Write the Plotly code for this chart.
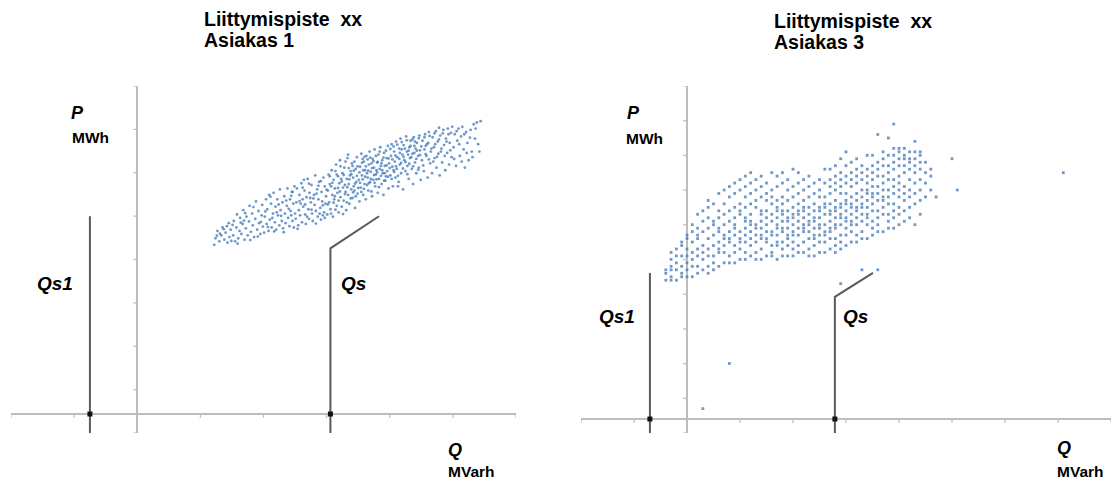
import plotly.graph_objects as go

W, H = 1115, 482

# ---------------- data ----------------
# Asiakas 1 : (Q MVarh, P MWh)
asiakas1_points = [
    (1.22,3.90),(1.24,4.05),(1.27,4.22),(1.30,3.98),(1.33,4.12),(1.35,4.30),(1.38,4.02),(1.40,4.18),
    (1.43,3.95),(1.45,4.40),(1.46,4.08),(1.48,4.25),(1.49,3.99),(1.42,4.33),(1.31,4.16),
    (1.52,4.12),(1.53,4.45),(1.55,3.98),(1.57,4.30),(1.58,4.60),(1.60,4.05),(1.62,4.22),(1.63,4.52),
    (1.65,4.15),(1.67,4.38),(1.68,4.70),(1.70,4.02),(1.72,4.28),(1.73,4.55),(1.75,4.12),(1.77,4.44),
    (1.78,4.80),(1.80,4.20),(1.82,4.62),(1.83,4.35),(1.85,4.08),(1.87,4.50),(1.88,4.90),(1.90,4.25),
    (1.92,4.68),(1.93,4.40),(1.95,4.15),(1.97,4.58),(1.98,4.82),(1.99,4.32),
    (2.01,4.18),(2.02,4.55),(2.04,4.95),(2.05,4.38),(2.06,4.72),(2.08,4.22),(2.09,5.05),(2.10,4.48),
    (2.12,4.85),(2.13,4.30),(2.15,4.62),(2.16,5.10),(2.18,4.42),(2.19,4.78),(2.20,4.25),(2.22,4.95),
    (2.23,4.58),(2.25,4.35),(2.26,5.18),(2.27,4.70),(2.29,4.45),(2.30,4.88),(2.31,4.28),(2.33,5.02),
    (2.34,4.62),(2.35,4.40),(2.37,4.80),(2.38,5.20),(2.39,4.52),(2.41,4.33),(2.42,4.95),(2.43,4.68),
    (2.45,5.12),(2.46,4.45),(2.47,4.85),(2.48,4.30),(2.49,5.25),(2.44,4.58),(2.36,4.92),(2.21,4.65),
    (2.51,4.50),(2.52,4.88),(2.53,5.20),(2.55,4.35),(2.56,4.70),(2.57,5.05),(2.58,4.58),(2.60,5.32),
    (2.61,4.42),(2.62,4.95),(2.63,4.78),(2.65,5.15),(2.66,4.60),(2.67,4.38),(2.68,5.00),(2.70,5.42),
    (2.71,4.72),(2.72,4.50),(2.73,5.10),(2.75,4.88),(2.76,5.28),(2.77,4.62),(2.78,4.45),(2.80,5.05),
    (2.81,4.82),(2.82,5.50),(2.83,4.68),(2.85,5.18),(2.86,4.55),(2.87,4.95),(2.88,5.35),(2.90,4.75),
    (2.91,4.48),(2.92,5.12),(2.93,4.90),(2.95,5.45),(2.96,4.65),(2.97,5.25),(2.98,4.85),(2.99,5.02),
    (2.64,5.40),(2.74,4.98),(2.84,5.08),(2.94,4.58),(2.59,4.85),
    (3.01,4.60),(3.02,5.15),(3.03,5.52),(3.04,4.88),(3.05,5.30),(3.06,4.72),(3.08,5.62),(3.09,5.05),
    (3.10,4.55),(3.11,5.40),(3.12,4.95),(3.13,5.20),(3.15,5.75),(3.16,4.80),(3.17,5.10),(3.18,5.48),
    (3.19,4.65),(3.20,5.32),(3.21,5.85),(3.22,5.00),(3.24,4.78),(3.25,5.55),(3.26,5.22),(3.27,4.92),
    (3.28,5.68),(3.30,5.12),(3.31,4.70),(3.32,5.42),(3.33,5.90),(3.34,5.05),(3.35,5.30),(3.36,4.85),
    (3.38,5.60),(3.39,5.18),(3.40,5.78),(3.41,4.98),(3.42,5.45),(3.43,5.25),(3.45,4.75),(3.46,5.65),
    (3.47,5.35),(3.48,5.92),(3.49,5.08),(3.14,5.60),(3.23,5.42),(3.29,5.28),(3.37,5.50),(3.44,5.15),
    (3.07,5.25),(3.44,5.82),
    (3.51,5.40),(3.52,4.90),(3.53,5.70),(3.54,5.22),(3.55,6.00),(3.56,5.50),(3.58,5.05),(3.59,5.82),
    (3.60,5.30),(3.61,5.62),(3.62,4.95),(3.63,5.95),(3.65,5.45),(3.66,5.15),(3.67,5.75),(3.68,6.05),
    (3.69,5.35),(3.70,5.58),(3.72,5.02),(3.73,5.88),(3.74,5.40),(3.75,5.68),(3.76,6.10),(3.77,5.25),
    (3.78,5.52),(3.80,5.80),(3.81,5.10),(3.82,5.98),(3.83,5.42),(3.84,5.65),(3.85,6.15),(3.87,5.30),
    (3.88,5.85),(3.89,5.55),(3.90,5.05),(3.91,6.02),(3.92,5.72),(3.93,5.38),(3.95,5.90),(3.96,5.60),
    (3.97,6.18),(3.98,5.20),(3.99,5.78),(3.57,5.88),(3.64,5.55),(3.71,5.78),(3.79,5.62),(3.86,5.72),
    (3.94,5.48),(3.58,5.62),
    (4.01,5.50),(4.02,5.95),(4.03,6.22),(4.04,5.70),(4.05,5.25),(4.07,6.05),(4.08,5.82),(4.09,5.45),
    (4.10,6.28),(4.11,5.65),(4.12,5.92),(4.14,5.35),(4.15,6.12),(4.16,5.75),(4.17,6.35),(4.18,5.55),
    (4.20,5.98),(4.21,5.18),(4.22,6.20),(4.23,5.85),(4.25,5.60),(4.26,6.40),(4.27,6.05),(4.28,5.72),
    (4.30,5.42),(4.31,6.15),(4.32,5.90),(4.33,6.30),(4.35,5.65),(4.36,6.00),(4.37,5.30),(4.38,6.38),
    (4.40,5.80),(4.41,6.12),(4.42,5.55),(4.43,6.25),(4.45,5.95),(4.46,5.68),(4.47,6.42),(4.48,6.08),
    (4.49,5.40),(4.06,5.62),(4.19,6.10),(4.29,5.98),(4.39,6.18),
    (4.51,5.85),(4.52,6.30),(4.54,5.60),(4.55,6.10),(4.56,6.45),(4.58,5.95),(4.60,5.45),(4.61,6.25),
    (4.62,6.50),(4.64,5.78),(4.65,6.05),(4.67,5.55),(4.68,6.38),(4.70,6.15),(4.71,5.90),(4.73,6.52),
    (4.74,5.68),(4.76,6.28),(4.77,6.00),(4.79,5.50),(4.80,6.42),(4.82,6.12),(4.83,5.80),(4.85,6.55),
    (4.86,6.20),(4.88,5.62),(4.89,6.35),(4.91,6.02),(4.92,6.58),(4.94,5.75),(4.95,6.25),(4.97,6.48),
    (4.98,5.92),(4.57,6.18),(4.78,6.60),
    (5.01,6.15),(5.03,6.45),(5.05,5.72),(5.07,6.30),(5.09,6.58),(5.11,5.95),(5.13,6.40),(5.15,6.62),
    (5.17,6.10),(5.19,5.68),(5.21,6.50),(5.23,6.25),(5.25,5.85),(5.28,6.55),(5.30,6.05),(5.33,6.68),
    (5.35,6.35),(5.38,6.72),(5.42,6.05),(5.44,6.75),
    # further readings, filling the cloud irregularly
    (1.26,4.11),(1.37,4.26),(1.51,4.36),(1.59,3.93),(1.64,4.41),(1.71,4.63),(1.79,4.01),(1.84,4.77),
    (1.91,4.09),(1.96,4.43),(2.03,4.67),(2.07,4.31),(2.11,5.01),(2.14,4.52),(2.17,4.21),(2.24,4.83),
    (2.28,4.57),(2.32,4.19),(2.40,4.73),(2.44,5.03),(2.50,4.62),(2.54,4.27),(2.57,4.91),(2.62,5.22),
    (2.66,4.83),(2.69,4.55),(2.72,5.31),(2.76,4.71),(2.79,4.97),(2.83,4.39),(2.87,5.26),(2.89,4.62),
    (2.91,5.37),(2.94,4.81),(2.97,4.52),(3.00,5.17),(3.02,4.83),(3.05,5.48),(3.07,4.62),(3.09,5.33),
    (3.11,4.87),(3.13,5.02),(3.14,4.71),(3.16,5.52),(3.18,5.21),(3.19,4.92),(3.21,5.13),(3.22,5.71),
    (3.24,5.36),(3.26,4.61),(3.27,5.51),(3.29,5.07),(3.30,5.82),(3.32,4.88),(3.33,5.23),(3.35,5.67),
    (3.36,5.41),(3.38,4.97),(3.39,5.53),(3.41,5.72),(3.42,5.11),(3.43,5.61),(3.45,5.31),(3.46,5.02),
    (3.48,5.49),(3.49,5.71),(3.50,5.21),(3.52,5.57),(3.53,5.33),(3.55,5.12),(3.56,5.79),(3.57,5.41),
    (3.59,5.19),(3.60,5.93),(3.61,5.47),(3.62,5.71),(3.64,5.28),(3.65,5.87),(3.66,5.61),(3.67,5.32),
    (3.69,5.91),(3.70,5.42),(3.71,5.13),(3.72,5.67),(3.74,5.83),(3.75,5.51),(3.76,5.33),(3.78,5.95),
    (3.79,5.41),(3.80,5.57),(3.81,5.81),(3.83,5.23),(3.84,6.05),(3.86,5.49),(3.87,5.78),(3.88,5.62),
    (3.90,5.91),(3.91,5.38),(3.92,5.55),(3.94,6.07),(3.95,5.73),(3.97,5.47),(3.98,5.89),(4.00,5.67),
    (4.01,6.11),(4.03,5.42),(4.04,5.87),(4.06,6.17),(4.07,5.58),(4.09,5.96),(4.10,5.71),(4.12,6.21),
    (4.13,5.49),(4.15,5.88),(4.16,6.02),(4.18,5.79),(4.19,6.27),(4.21,5.66),(4.22,5.93),(4.24,6.12),
    (4.25,5.81),(4.27,6.31),(4.28,5.53),(4.30,6.07),(4.31,5.77),(4.33,6.18),(4.34,5.92),(4.36,6.33),
    (4.37,5.71),(4.39,6.02),(4.40,6.28),(4.42,5.88),(4.43,6.07),(4.45,5.63),(4.46,6.36),(4.48,5.97),
    (4.50,6.17),(4.53,5.73),(4.55,6.38),(4.57,5.99),(4.59,6.22),(4.62,5.87),(4.63,6.41),(4.66,6.12),
    (4.69,5.82),(4.71,6.47),(4.72,6.22),(4.75,5.93),(4.78,6.33),(4.81,6.05),(4.84,6.47),(4.87,5.95),
    (4.90,6.28),(4.93,6.45),(4.96,6.08),(4.99,6.62),(5.02,5.88),(5.06,6.52),(5.10,6.22),(5.14,5.82),
    (5.18,6.45),(5.22,6.02),(5.27,6.37),(5.31,5.92),(5.36,6.58),(5.40,6.22),(4.13,5.25),(3.34,5.98),
    (2.46,5.12),(1.69,4.46),
]

# Asiakas 3 : readings are on a 0.1 grid -> (Q MVarh, [P MWh values in that column])
asiakas3_columns = [
    (-0.4, [4.0, 4.2, 4.3]),
    (-0.3, [4.0, 4.1, 4.3, 4.4, 4.6, 4.8]),
    (-0.2, [4.0, 4.3, 4.5, 4.7, 4.9]),
    (-0.1, [4.1, 4.2, 4.4, 4.7, 5.0, 5.1]),
    (0.0, [4.1, 4.3, 4.5, 4.7, 4.9, 5.2, 5.3]),
    (0.1, [4.1, 4.4, 4.6, 4.8, 5.1, 5.4, 5.6]),
    (0.2, [4.2, 4.4, 4.7, 4.9, 5.2, 5.3, 5.5, 5.9]),
    (0.3, [4.3, 4.6, 4.8, 5.0, 5.4, 5.7, 6.0]),
    (0.4, [4.2, 4.4, 4.7, 4.9, 5.2, 5.5, 5.8, 6.1, 6.3]),
    (0.5, [4.3, 4.5, 4.7, 5.0, 5.3, 5.6, 5.7, 6.2]),
    (0.6, [4.4, 4.8, 4.9, 5.1, 5.4, 5.5, 5.8, 6.0, 6.5]),
    (0.7, [4.5, 4.8, 5.0, 5.2, 5.3, 5.6, 5.9, 6.2, 6.6]),
    (0.8, [4.5, 4.7, 5.1, 5.2, 5.4, 5.7, 6.0, 6.4, 6.7]),
    (0.9, [4.5, 4.8, 5.0, 5.3, 5.5, 5.6, 5.8, 6.1, 6.5, 6.8]),
    (1.0, [4.6, 4.9, 5.1, 5.2, 5.4, 5.9, 6.0, 6.2, 6.6, 6.9]),
    (1.1, [4.6, 4.8, 5.1, 5.3, 5.5, 5.7, 5.8, 6.1, 6.4, 6.7, 7.0]),
    (1.2, [4.7, 5.0, 5.2, 5.4, 5.6, 5.7, 5.9, 6.2, 6.5, 6.8, 7.1]),
    (1.3, [4.6, 4.8, 5.1, 5.3, 5.5, 5.6, 6.1, 6.3, 6.6, 6.9]),
    (1.4, [4.6, 4.9, 5.2, 5.3, 5.5, 5.7, 5.9, 6.0, 6.4, 6.7, 7.0]),
    (1.5, [4.7, 5.1, 5.2, 5.4, 5.6, 5.8, 6.0, 6.3, 6.5, 6.8]),
    (1.6, [4.7, 4.8, 5.0, 5.3, 5.4, 5.7, 5.9, 6.2, 6.4, 6.6, 7.1]),
    (1.7, [4.6, 5.0, 5.1, 5.3, 5.5, 5.6, 5.8, 6.0, 6.1, 6.3, 6.7, 7.0]),
    (1.8, [4.7, 4.9, 5.1, 5.4, 5.5, 5.7, 5.9, 6.0, 6.2, 6.4, 6.8, 7.1]),
    (1.9, [4.7, 5.0, 5.2, 5.3, 5.5, 5.7, 5.8, 6.0, 6.3, 6.6, 6.9]),
    (2.0, [4.7, 4.9, 5.1, 5.3, 5.4, 5.6, 5.8, 5.9, 6.1, 6.4, 6.7, 7.2]),
    (2.1, [4.8, 5.0, 5.3, 5.5, 5.7, 5.9, 6.0, 6.2, 6.5, 6.8, 7.1]),
    (2.2, [4.8, 5.1, 5.4, 5.5, 5.6, 5.8, 6.0, 6.1, 6.3, 6.6, 6.9]),
    (2.3, [4.7, 4.9, 5.2, 5.4, 5.6, 5.7, 5.9, 6.1, 6.4, 6.7, 7.0]),
    (2.4, [4.7, 5.0, 5.2, 5.3, 5.5, 5.7, 5.8, 6.0, 6.2, 6.5, 6.8]),
    (2.5, [4.8, 5.1, 5.3, 5.5, 5.6, 5.8, 6.0, 6.1, 6.4, 6.6, 6.9]),
    (2.6, [4.8, 5.1, 5.3, 5.4, 5.6, 5.9, 6.1, 6.2, 6.4, 6.8, 7.2]),
    (2.7, [4.9, 5.2, 5.4, 5.5, 5.7, 5.9, 6.0, 6.2, 6.5, 6.7, 6.9, 7.2]),
    (2.8, [4.8, 5.0, 5.2, 5.5, 5.6, 5.8, 6.0, 6.1, 6.3, 6.6, 6.8, 7.0, 7.3]),
    (2.9, [4.9, 5.1, 5.3, 5.6, 5.8, 5.9, 6.1, 6.2, 6.5, 6.7, 6.9, 7.1, 7.5]),
    (3.0, [5.0, 5.3, 5.5, 5.7, 5.8, 6.0, 6.2, 6.3, 6.5, 6.8, 7.0, 7.3, 7.7]),
    (3.1, [5.1, 5.4, 5.6, 5.7, 5.9, 6.1, 6.2, 6.4, 6.7, 6.9, 7.1, 7.4]),
    (3.2, [5.1, 5.3, 5.6, 5.8, 6.0, 6.1, 6.3, 6.5, 6.8, 7.0, 7.2, 7.5]),
    (3.3, [5.2, 5.4, 5.7, 5.9, 6.1, 6.2, 6.4, 6.6, 6.9, 7.1, 7.3]),
    (3.4, [5.2, 5.6, 5.8, 5.9, 6.1, 6.3, 6.5, 6.6, 6.8, 7.0, 7.2, 7.6]),
    (3.5, [5.3, 5.5, 5.7, 6.0, 6.2, 6.4, 6.5, 6.7, 6.9, 7.1, 7.3, 7.6]),
    (3.6, [5.4, 5.6, 5.8, 6.0, 6.3, 6.5, 6.7, 7.0, 7.2, 7.4, 8.2]),
    (3.7, [5.4, 5.9, 6.1, 6.3, 6.4, 6.6, 6.8, 7.0, 7.3, 7.5, 7.7]),
    (3.8, [5.5, 5.7, 5.9, 6.2, 6.4, 6.6, 6.9, 7.1, 7.3, 7.6, 8.1]),
    (3.9, [5.5, 5.8, 6.0, 6.2, 6.5, 6.7, 6.9, 7.2, 7.4, 7.6, 7.8, 8.5]),
    (4.0, [5.6, 5.9, 6.1, 6.4, 6.6, 6.8, 7.0, 7.3, 7.5, 7.7, 7.8]),
    (4.1, [5.7, 6.0, 6.3, 6.5, 6.7, 7.1, 7.3, 7.5, 7.6, 7.8]),
    (4.2, [5.8, 6.1, 6.4, 6.6, 6.9, 7.2, 7.4, 7.5, 7.7]),
    (4.3, [5.6, 6.2, 6.5, 6.8, 7.1, 7.3, 7.5, 7.7, 8.0]),
    (4.4, [5.9, 6.3, 6.6, 6.9, 7.2, 7.4, 7.6, 7.7]),
    (4.5, [6.4, 6.8, 7.1, 7.4]),
    (4.6, [6.6, 7.0, 7.2]),
    (4.7, [6.4]),
    (5.0, [7.5]),
    (5.1, [6.6]),
    (7.1, [7.1]),
]
asiakas3_outliers = [(0.3, 0.3), (0.8, 1.6), (2.9, 3.9), (3.3, 4.3), (3.6, 4.3)]

# limit lines (Q, P) : Qs1 vertical, Qs vertical + slanted part
qs1_left_q, qs1_left_top = -0.75, 4.56
qs_left = [(3.06, None), (3.06, 3.82), (3.83, 4.56)]
qs1_right_q, qs1_right_top = -0.70, 4.21
qs_right = [(2.79, None), (2.79, 3.52), (3.51, 4.21)]

# axis ranges (Q, P)
x1_range, y1_range = [-2, 6], [-0.438, 7.562]
x2_range, y2_range = [-2, 8], [-0.403, 9.597]

# ---------------- figure ----------------
BLUE = "#4A7EBB"
AXIS = "#BDBDBD"
LINE = "#5A5A5A"
FONT = "Liberation Sans, Arial, sans-serif"

fig = go.Figure()

q1 = [p[0] for p in asiakas1_points]
p1 = [p[1] for p in asiakas1_points]
fig.add_trace(go.Scatter(x=q1, y=p1, mode="markers", xaxis="x", yaxis="y",
                         marker=dict(size=2.8, color=BLUE, opacity=0.8, line=dict(width=0)),
                         hoverinfo="skip"))

q3, p3 = [], []
for q, ps in asiakas3_columns:
    for p in ps:
        q3.append(q)
        p3.append(p)
for q, p in asiakas3_outliers:
    q3.append(q)
    p3.append(p)
fig.add_trace(go.Scatter(x=q3, y=p3, mode="markers", xaxis="x2", yaxis="y2",
                         marker=dict(size=2.8, color=BLUE, opacity=0.8, symbol="square",
                                     line=dict(width=0)),
                         hoverinfo="skip"))

def limit_lines(xa, ya, yr, qs1_q, qs1_top, qs):
    fig.add_trace(go.Scatter(x=[qs1_q, qs1_q], y=[yr[0], qs1_top], mode="lines",
                             xaxis=xa, yaxis=ya, line=dict(color=LINE, width=2),
                             hoverinfo="skip"))
    xs = [q for q, _ in qs]
    ys = [yr[0] if p is None else p for _, p in qs]
    fig.add_trace(go.Scatter(x=xs, y=ys, mode="lines", xaxis=xa, yaxis=ya,
                             line=dict(color=LINE, width=2), hoverinfo="skip"))
    fig.add_trace(go.Scatter(x=[qs1_q, qs[0][0]], y=[0, 0], mode="markers",
                             xaxis=xa, yaxis=ya,
                             marker=dict(size=5, color="#111111", symbol="square"),
                             hoverinfo="skip"))

limit_lines("x", "y", y1_range, qs1_left_q, qs1_left_top, qs_left)
limit_lines("x2", "y2", y2_range, qs1_right_q, qs1_right_top, qs_right)

def px(x):
    return x / W

def py(y):
    return 1 - y / H

axis_common = dict(showgrid=False, showticklabels=False, ticks="", showline=False,
                   zeroline=True, zerolinecolor=AXIS, zerolinewidth=1.6, fixedrange=True)

fig.update_layout(
    width=W, height=H, margin=dict(l=0, r=0, t=0, b=0),
    paper_bgcolor="white", plot_bgcolor="white", showlegend=False,
    xaxis=dict(domain=[px(11), px(516)], range=x1_range, anchor="y", **axis_common),
    yaxis=dict(domain=[py(433), py(86)], range=y1_range, anchor="x", **axis_common),
    xaxis2=dict(domain=[px(581), px(1111)], range=x2_range, anchor="y2", **axis_common),
    yaxis2=dict(domain=[py(433), py(86)], range=y2_range, anchor="x2", **axis_common),
)

# tick marks on the crossing axes
shapes = []
for xr, yr, xref, yref in [(x1_range, y1_range, "x", "y"), (x2_range, y2_range, "x2", "y2")]:
    for k in range(int(round(xr[1] - xr[0])) + 1):
        v = xr[0] + k
        shapes.append(dict(type="line", xref=xref, yref=yref, x0=v, x1=v,
                           ysizemode="pixel", yanchor=0, y0=-4, y1=0,
                           line=dict(color=AXIS, width=1.2)))
    for k in range(int(round(yr[1] - yr[0])) + 1):
        v = yr[0] + k
        shapes.append(dict(type="line", xref=xref, yref=yref, y0=v, y1=v,
                           xsizemode="pixel", xanchor=0, x0=-4, x1=0,
                           line=dict(color=AXIS, width=1.2)))
fig.update_layout(shapes=shapes)

def label(text, x, y, size, italic=False):
    t = "<b>" + (f"<i>{text}</i>" if italic else text) + "</b>"
    fig.add_annotation(text=t, x=px(x), y=py(y), xref="paper", yref="paper",
                       xanchor="left", yanchor="middle", showarrow=False,
                       font=dict(family=FONT, size=size, color="#000000"))

# left panel texts
label("Liittymispiste\u00a0 xx", 202, 19, 19.5)
label("Asiakas 1", 202, 40, 19.5)
label("P", 69, 113, 18, True)
label("MWh", 70, 137, 15.5)
label("Qs1", 35, 283, 19, True)
label("Qs", 339, 283, 19, True)
label("Q", 446, 450, 18, True)
label("MVarh", 446, 471, 15.5)

# right panel texts
label("Liittymispiste\u00a0 xx", 772, 21, 19.5)
label("Asiakas 3", 772, 42, 19.5)
label("P", 625, 113, 18, True)
label("MWh", 624, 138, 15.5)
label("Qs1", 597, 316, 19, True)
label("Qs", 841, 316, 19, True)
label("Q", 1055, 448, 18, True)
label("MVarh", 1055, 471, 15.5)

fig.write_html("out.html")
